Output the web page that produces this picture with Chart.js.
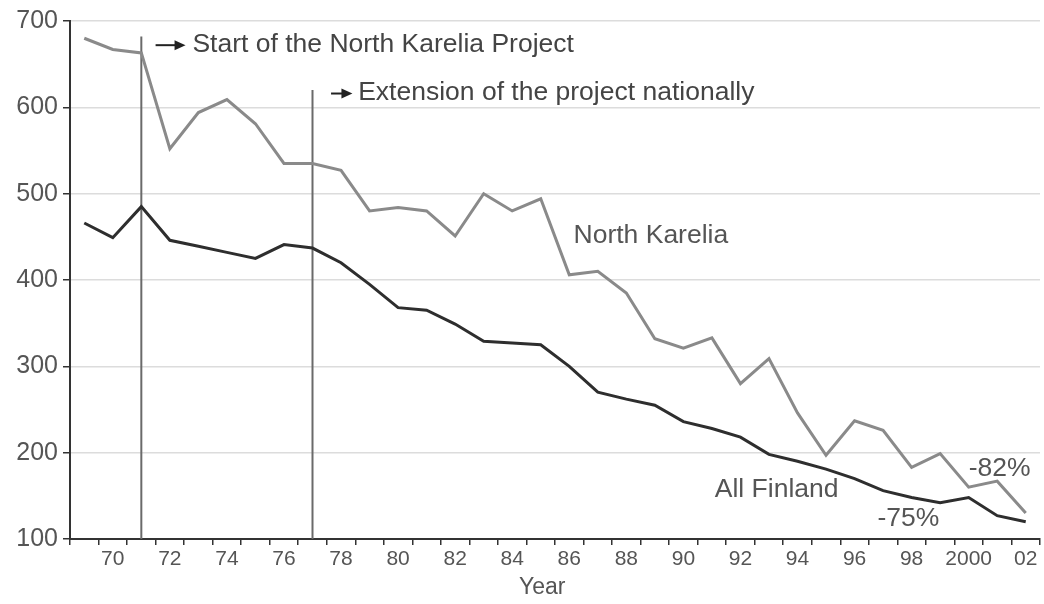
<!DOCTYPE html>
<html>
<head>
<meta charset="utf-8">
<script src="https://cdn.jsdelivr.net/npm/chart.js@4"></script>
<style>
  body { margin: 0; background: #fff; }
  #wrap { width: 1044px; height: 604px; }
</style>
</head>
<body>
<div id="wrap"><canvas id="chart-line"></canvas></div>
<script>
// years on the x axis
var years = [1969, 1970, 1971, 1972, 1973, 1974, 1975, 1976, 1977, 1978, 1979, 1980,
  1981, 1982, 1983, 1984, 1985, 1986, 1987, 1988, 1989, 1990, 1991, 1992,
  1993, 1994, 1995, 1996, 1997, 1998, 1999, 2000, 2001, 2002];
var tickLabels = ['', '70', '', '72', '', '74', '', '76', '', '78', '', '80',
  '', '82', '', '84', '', '86', '', '88', '', '90', '', '92',
  '', '94', '', '96', '', '98', '', '2000', '', '02'];

// mortality per 100 000
var northKarelia = [680, 667, 663, 552, 594, 609, 581, 535, 535, 527, 480, 484,
  480, 451, 500, 480, 494, 406, 410, 385, 332, 321, 333, 280,
  309, 246, 197, 237, 226, 183, 199, 160, 167, 130];
var allFinland = [466, 449, 485, 446, 439, 432, 425, 441, 437, 420, 395, 368,
  365, 349, 329, 327, 325, 300, 270, 262, 255, 236, 228, 218,
  198, 190, 181, 170, 156, 148, 142, 148, 127, 120];

var yTicks = [100, 200, 300, 400, 500, 600, 700];

// notes: [year index, value, text, colour]
var notes = [
  [3.79, 673, 'Start of the North Karelia Project', '#444'],
  [9.6, 617, 'Extension of the project nationally', '#444'],
  [17.15, 451, 'North Karelia', '#555'],
  [22.1, 157, 'All Finland', '#555'],
  [31.0, 182, '-82%', '#555'],
  [27.8, 124, '-75%', '#555']
];
// project markers: [year index, top value]
var markers = [[2, 682], [8, 620]];
var arrows = [[2.5, 3.55, 672], [8.65, 9.4, 616]];
var axisTitle = [16.05, 'Year'];

var FONT = "'Liberation Sans', Arial, sans-serif";

var notePlugin = {
  id: 'notes',
  beforeDatasetsDraw: function(chart) {
    var c = chart.ctx, x = chart.scales.x, y = chart.scales.y;
    c.save();
    c.strokeStyle = '#6a6a6a';
    c.lineWidth = 2;
    markers.forEach(function(m) {
      var px = x.getPixelForValue(m[0]);
      c.beginPath();
      c.moveTo(px, y.getPixelForValue(100));
      c.lineTo(px, y.getPixelForValue(m[1]));
      c.stroke();
    });
    c.restore();
  },
  afterDatasetsDraw: function(chart) {
    var c = chart.ctx, x = chart.scales.x, y = chart.scales.y;
    c.save();
    arrows.forEach(function(a) {
      var x0 = x.getPixelForValue(a[0]), x1 = x.getPixelForValue(a[1]), py = y.getPixelForValue(a[2]);
      c.strokeStyle = '#222';
      c.fillStyle = '#222';
      c.lineWidth = 2;
      c.beginPath();
      c.moveTo(x0, py);
      c.lineTo(x1 - 8, py);
      c.stroke();
      c.beginPath();
      c.moveTo(x1, py);
      c.lineTo(x1 - 11, py - 5);
      c.lineTo(x1 - 11, py + 5);
      c.closePath();
      c.fill();
    });
    c.font = '26.5px ' + FONT;
    c.textAlign = 'left';
    c.textBaseline = 'middle';
    notes.forEach(function(n) {
      c.fillStyle = n[3];
      c.fillText(n[2], x.getPixelForValue(n[0]), y.getPixelForValue(n[1]));
    });
    // axis title
    c.font = '23px ' + FONT;
    c.textAlign = 'center';
    c.fillStyle = '#555';
    c.fillText(axisTitle[1], x.getPixelForValue(axisTitle[0]), x.bottom - 16);
    c.restore();
  }
};

const ctx = document.getElementById('chart-line').getContext('2d');
const myChart = new Chart(ctx, {
  type: 'line',
  data: {
    labels: tickLabels,
    datasets: [{
      label: 'North Karelia',
      data: northKarelia,
      borderColor: '#8a8a8a',
      backgroundColor: 'transparent',
      borderWidth: 3
    },
    {
      label: 'All Finland',
      data: allFinland,
      borderColor: '#2e2e2e',
      backgroundColor: 'transparent',
      borderWidth: 3
    }]
  },
  options: {
    responsive: true,
    maintainAspectRatio: false,
    animation: false,
    layout: { padding: { top: 21, right: 4, left: 0, bottom: 0 } },
    elements: {
      line: { tension: 0 },
      point: { radius: 0 }
    },
    plugins: {
      legend: { display: false },
      tooltip: { enabled: false }
    },
    scales: {
      x: {
        offset: true,
        grid: { offset: true, drawOnChartArea: false, drawTicks: true, tickLength: 6, color: '#333', lineWidth: 1.5 },
        border: { color: '#333', width: 2 },
        ticks: {
          autoSkip: false, maxRotation: 0, padding: 2,
          color: '#555', font: { family: FONT, size: 21 }
        },
        afterFit: function(s) { s.height = 65; }
      },
      y: {
        min: 100, max: 700,
        afterBuildTicks: function(s) { s.ticks = yTicks.map(function(v) { return { value: v }; }); },
        grid: { color: '#dcdcdc', lineWidth: 1.5, tickColor: '#333', tickLength: 7 },
        border: { color: '#333', width: 2 },
        ticks: { padding: 5, color: '#555', font: { family: FONT, size: 25 } },
        afterFit: function(s) { s.width = 70; }
      }
    }
  },
  plugins: [notePlugin]
});
</script>
</body>
</html>
